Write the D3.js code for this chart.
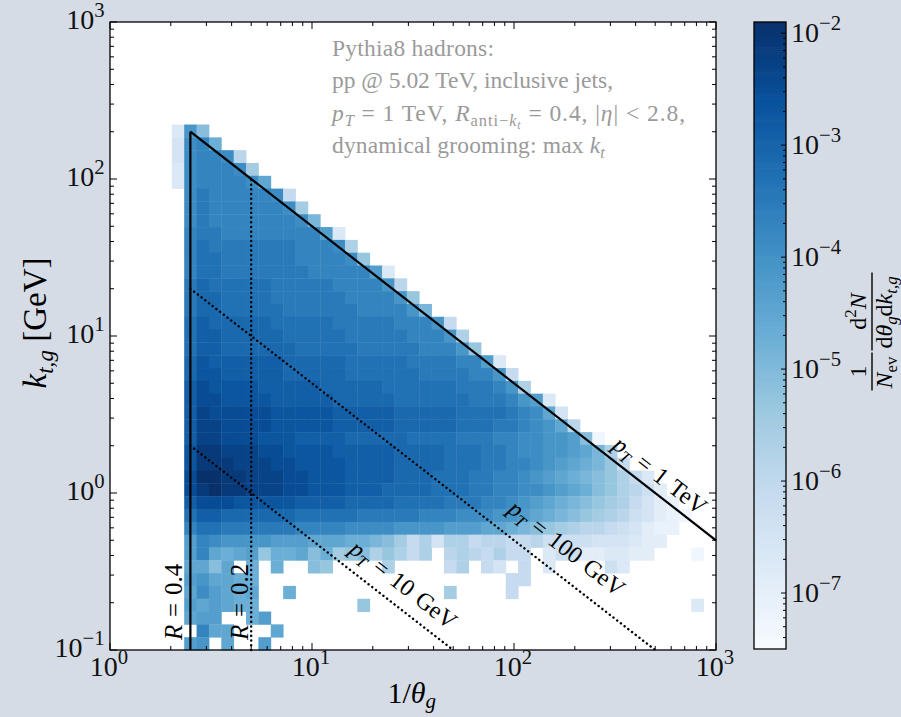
<!DOCTYPE html>
<html><head><meta charset="utf-8">
<script src="https://cdn.jsdelivr.net/npm/d3@7"></script>
<style>
html,body{margin:0;padding:0;background:#d6dce5;}
svg{display:block;}
text{font-family:"Liberation Serif","Times New Roman",serif;}
</style></head><body>
<svg id="chart" width="901" height="717"></svg>
<script>
// ---- histogram definition -------------------------------------------------
const xDomain = [1, 1000];     // 1/theta_g
const yDomain = [0.1, 1000];   // k_t,g [GeV]
const nBinsX = 49, nBinsY = 49;

// density levels: char index k -> log10(density) = levelBase + levelStep*k, '.' = empty bin
const levelChars = "0123456789ABCDEFGHIJKLMNOPQRS";
const levelBase = -7.5, levelStep = 0.2;

// one string per k_t bin, listed from the highest filled bin (40) down to bin 0;
// character position = 1/theta_g bin
const densityRowsTopDown = [
  ".....4HC",
  ".....5IJE",
  ".....5IJJI8",
  ".....4IJJJIA",
  ".....4IJJJJIF",
  "......IKJJJJJI7",
  "......IKJJJJJJIA",
  "......IKJJJJJJJID",
  "......JKKJJJJJJJJG4",
  "......JLKKKKKKKJJJI9",
  "......JLLKKKKKKJJJJIB",
  "......JLLKKKKKKKJJJJJG4",
  "......KMLLLLLKKKKKJJJJH8",
  "......KMMLLLLKKKKKKJJJJHB",
  "......KMMLLLLLKKKKKKJJJJHD",
  "......LNMMMMMLLLLLKKKKKJJJH7",
  "......LNNMMMMMLLLLLKKKKKJJJH9",
  "......LNNMMMMMMLLLLLKKKKKJJJHB",
  "......MONNNNNNMMMMMLLLLLKKKKJJG4",
  "......MOONNNNNMMMMMLLLLLLKKKKJJH7",
  "......NPOOOONNNNNMMMMMLLLLLLKKKJH9",
  "......NPPOOOONNNNNMMMMMLLLLLLKKKJHG4",
  "......NQPPPPPOOOOONNNNNMMMMMLLLLKJIF5",
  "......NQQPPPPOOOOONNNNNMMMMMLLLKKJIHF8",
  "......NQQPPPOOONNNNMMMMMLLLLKKKJJIIHHGC1",
  "......ORRQQQPPOOOONNNNNMMMMLLLKKJIIHHGFD9",
  "......ORRRQQQPPOOOONNNNMMMMLLLKKJJIHGFEDB7",
  "......PSSRRQQQPPOOONNNNMMMLLLKKJJIHGFEDCB974",
  "......PRSRRQQQPPOOONNNMMMMLLLKKJJIIHGFECB9863",
  "......NPPPOOOOONNNNMMMMLLLLKKKJJIHGFEDCBA97532",
  "......LNNMMMMMMLLLLLKKKKKJJJIIIHHGFEDCBA9865321",
  "......JLLKKKKKKJJJJIIIIHHHHGGGFFEDCBA988765322",
  "......GJIHHHHGGGFFFEEDCA795997887786666555433",
  "......GJFEFGBEEFCEABC9B979.8987977.466334433...1",
  "......FFCF.E.E..CB....9....79.75.7.4....64",
  "......GHFFEE....................77",
  "......FIGFEF..E............A....7",
  "......GFGFEE........B..........................4",
  "......FGG..EG",
  ".......JFF...F",
  "......GH.F..G"
];

const colorLimits = [Math.pow(10, -7.5), Math.pow(10, -1.9)];
const bluesStops = ["#f7fbff","#deebf7","#c6dbef","#9ecae1","#6baed6","#4292c6","#2171b5","#08519c","#08306b"];

const xMajorExps = [0, 1, 2, 3];
const yMajorExps = [-1, 0, 1, 2, 3];
const cbarMajorExps = [-7, -6, -5, -4, -3, -2];

// guide lines: R = 0.4, 0.2 and k_t = p_T * theta / 2 for p_T = 1000, 100, 10 GeV
const guideLines = [
  {pts: [[2.5, 0.1], [2.5, 200]], dotted: false},
  {pts: [[2.5, 200], [1000, 0.5]], dotted: false},
  {pts: [[5, 0.1], [5, 100]], dotted: true},
  {pts: [[2.5, 20], [500, 0.1]], dotted: true},
  {pts: [[2.5, 2], [50, 0.1]], dotted: true}
];
const ptLabels = [
  {at: 470, pt: 1000, off: -9,  text: [["p",1,0],["T",1,1],[" = 1 TeV",0,0]]},
  {at: 152, pt: 100,  off: -18, text: [["p",1,0],["T",1,1],[" = 100 GeV",0,0]]},
  {at: 24.5, pt: 10,  off: -13, text: [["p",1,0],["T",1,1],[" = 10 GeV",0,0]]}
];

// annotation block: rich-text segments [text, italic, level] and line widths
const annLines = [
  [["Pythia8 hadrons:", 0, 0]],
  [["pp @ 5.02 TeV, inclusive jets,", 0, 0]],
  [["p", 1, 0], ["T", 1, 1], [" = 1 TeV, ", 0, 0], ["R", 1, 0], ["anti\u2212", 0, 1], ["k", 1, 1], ["t", 1, 2],
   [" = 0.4, |", 0, 0], ["\u03b7", 1, 0], ["| < 2.8,", 0, 0]],
  [["dynamical grooming: max ", 0, 0], ["k", 1, 0], ["t", 1, 1]]
];
const annWidths = [162, 281, 353, 275];

// ---- layout ----------------------------------------------------------------
const W = 901, H = 717;
const plot = {left: 110, right: 716, top: 22, bottom: 650};
const cbar = {left: 754, right: 786, top: 22, bottom: 649};
const bg = "#d6dce5";
const tickFont = 28, labelFont = 33, annFont = 23.5, lineFont = 24;

const svg = d3.select("#chart");
const x = d3.scaleLog().domain(xDomain).range([plot.left, plot.right]);
const y = d3.scaleLog().domain(yDomain).range([plot.bottom, plot.top]);
const norm = d3.scaleLog().domain(colorLimits).range([0, 1]).clamp(true);
const cmap = d3.scaleLinear().domain(bluesStops.map((_, i) => i / (bluesStops.length - 1)))
  .range(bluesStops).interpolate(d3.interpolateRgb).clamp(true);

// rich text: segments [text, italic, level] ; level 0 normal, 1 sub, 2 subsub, -1 super
function rich(sel, segs, size, supScale, subShift) {
  let cur = 0;
  const ss = supScale || 0.7, sb = subShift || 0.2;
  segs.forEach(([t, it, lvl]) => {
    const fs = lvl === 0 ? size : lvl === -1 ? size * ss : lvl === 1 ? size * 0.7 : size * 0.5;
    const off = lvl === 0 ? 0 : lvl === 1 ? size * sb : lvl === 2 ? size * 0.33 : -size * 0.42;
    sel.append("tspan").attr("dy", off - cur).attr("font-size", fs)
      .attr("font-style", it ? "italic" : "normal").text(t);
    cur = off;
  });
  if (cur !== 0) sel.append("tspan").attr("dy", -cur).attr("font-size", size).text("\u200a");
  return sel;
}
function pow10(sel, e, size) {
  return rich(sel, [["10", 0, 0], [e < 0 ? "\u2212" + (-e) : String(e), 0, -1]], size, 0.74);
}

svg.append("rect").attr("width", W).attr("height", H).attr("fill", bg);
svg.append("rect").attr("x", plot.left).attr("y", plot.top)
  .attr("width", plot.right - plot.left).attr("height", plot.bottom - plot.top).attr("fill", "#fff");

// ---- heat map ---------------------------------------------------------------
const xEdges = d3.range(nBinsX + 1).map(i => xDomain[0] * Math.pow(xDomain[1] / xDomain[0], i / nBinsX));
const yEdges = d3.range(nBinsY + 1).map(i => yDomain[0] * Math.pow(yDomain[1] / yDomain[0], i / nBinsY));
const cells = [];
densityRowsTopDown.forEach((row, i) => {
  const r = densityRowsTopDown.length - 1 - i;
  for (let c = 0; c < row.length; c++) {
    const k = levelChars.indexOf(row[c]);
    if (k < 0) continue;
    cells.push({c, r, v: Math.pow(10, levelBase + levelStep * k)});
  }
});
svg.append("g").selectAll("rect").data(cells).join("rect")
  .attr("x", d => x(xEdges[d.c]))
  .attr("y", d => y(yEdges[d.r + 1]))
  .attr("width", d => x(xEdges[d.c + 1]) - x(xEdges[d.c]) + 0.4)
  .attr("height", d => y(yEdges[d.r]) - y(yEdges[d.r + 1]) + 0.4)
  .attr("fill", d => cmap(norm(d.v)));

// ---- guide lines -----------------------------------------------------------
const line = d3.line().x(d => x(d[0])).y(d => y(d[1]));
svg.append("g").selectAll("path").data(guideLines).join("path")
  .attr("d", d => line(d.pts)).attr("fill", "none").attr("stroke", "#000")
  .attr("stroke-width", d => d.dotted ? 2.4 : 2.2)
  .attr("stroke-dasharray", d => d.dotted ? "0.1,4.6" : null)
  .attr("stroke-linecap", d => d.dotted ? "round" : "butt");

const ang = Math.atan2(y(0.5) - y(200), x(1000) - x(2.5)) * 180 / Math.PI;
ptLabels.forEach(l => {
  const px = x(l.at), py = y(l.pt / 2 / l.at);
  const t = svg.append("text").attr("transform", `translate(${px},${py}) rotate(${ang})`)
    .attr("y", l.off).attr("text-anchor", "middle").attr("font-size", lineFont).attr("fill", "#000")
    .attr("word-spacing", 2);
  rich(t, l.text, lineFont);
});
[[2.5, "0.4", -8], [5, "0.2", -3]].forEach(([xv, rv, off]) => {
  const t = svg.append("text").attr("transform", `translate(${x(xv) + off},${plot.bottom - 10}) rotate(-90)`)
    .attr("text-anchor", "start").attr("font-size", 25).attr("word-spacing", 1.5);
  rich(t, [["R", 1, 0], [" = " + rv, 0, 0]], 25);
});

// ---- annotation ------------------------------------------------------------
annLines.forEach((segs, i) => {
  const t = svg.append("text").attr("x", 332).attr("y", 56 + i * 32.4)
    .attr("font-size", annFont).attr("fill", "#9a9a9a")
    .attr("textLength", annWidths[i]).attr("lengthAdjust", "spacing");
  rich(t, segs, annFont);
});

// ---- frame and ticks -------------------------------------------------------
const axG = svg.append("g").attr("stroke", "#000").attr("stroke-width", 1);
function logTicks(lo, hi) {
  const out = [];
  for (let e = Math.floor(Math.log10(lo)); e <= Math.ceil(Math.log10(hi)); e++)
    for (let m = 1; m <= 9; m++) {
      const v = m * Math.pow(10, e);
      if (v >= lo * 0.9999 && v <= hi * 1.0001) out.push({v, major: m === 1});
    }
  return out;
}
const maj = 7, mnr = 4;
logTicks(xDomain[0], xDomain[1]).forEach(t => {
  const px = x(t.v), L = t.major ? maj : mnr;
  axG.append("line").attr("x1", px).attr("x2", px).attr("y1", plot.bottom).attr("y2", plot.bottom - L);
  axG.append("line").attr("x1", px).attr("x2", px).attr("y1", plot.top).attr("y2", plot.top + L);
});
logTicks(yDomain[0], yDomain[1]).forEach(t => {
  const py = y(t.v), L = t.major ? maj : mnr;
  axG.append("line").attr("y1", py).attr("y2", py).attr("x1", plot.left).attr("x2", plot.left + L);
  axG.append("line").attr("y1", py).attr("y2", py).attr("x1", plot.right).attr("x2", plot.right - L);
});
svg.append("rect").attr("x", plot.left).attr("y", plot.top)
  .attr("width", plot.right - plot.left).attr("height", plot.bottom - plot.top)
  .attr("fill", "none").attr("stroke", "#000").attr("stroke-width", 1.3);

xMajorExps.forEach(e => {
  const t = svg.append("text").attr("x", x(Math.pow(10, e))).attr("y", 676)
    .attr("text-anchor", "middle").attr("font-size", tickFont).attr("fill", "#111");
  pow10(t, e, tickFont);
});
yMajorExps.forEach(e => {
  const t = svg.append("text").attr("x", 107).attr("y", y(Math.pow(10, e)) + 7)
    .attr("text-anchor", "end").attr("font-size", tickFont).attr("fill", "#111");
  pow10(t, e, tickFont);
});

// axis titles
const xt = svg.append("text").attr("x", (plot.left + plot.right) / 2).attr("y", 703)
  .attr("text-anchor", "middle").attr("font-size", 30);
rich(xt, [["1/", 0, 0], ["\u03b8", 1, 0], ["g", 1, 1]], 30, 0.7, 0.15);
const yt = svg.append("text")
  .attr("transform", `translate(46,323) rotate(-90)`)
  .attr("text-anchor", "middle").attr("font-size", labelFont);
rich(yt, [["k", 1, 0], ["t,g", 1, 1], [" [GeV]", 0, 0]], labelFont);

// ---- colour bar -------------------------------------------------------------
const cy = d3.scaleLog().domain(colorLimits).range([cbar.bottom, cbar.top]);
const nSteps = 300;
const cbG = svg.append("g");
d3.range(nSteps).forEach(i => {
  const f0 = i / nSteps, f1 = (i + 1) / nSteps;
  const y0 = cbar.bottom - f0 * (cbar.bottom - cbar.top), y1 = cbar.bottom - f1 * (cbar.bottom - cbar.top);
  cbG.append("rect").attr("x", cbar.left).attr("y", y1).attr("width", cbar.right - cbar.left)
    .attr("height", y0 - y1 + 0.6).attr("fill", cmap((i + 0.5) / nSteps));
});
logTicks(colorLimits[0], colorLimits[1]).forEach(t => {
  const py = cy(t.v), L = t.major ? 5 : 3;
  cbG.append("line").attr("x1", cbar.right).attr("x2", cbar.right - L).attr("y1", py).attr("y2", py)
    .attr("stroke", "#000").attr("stroke-width", 1);
});
cbG.append("rect").attr("x", cbar.left).attr("y", cbar.top).attr("width", cbar.right - cbar.left)
  .attr("height", cbar.bottom - cbar.top).attr("fill", "none").attr("stroke", "#000").attr("stroke-width", 1.3);
cbarMajorExps.forEach(e => {
  const t = svg.append("text").attr("x", 791).attr("y", cy(Math.pow(10, e)) + 9)
    .attr("font-size", tickFont).attr("fill", "#111");
  pow10(t, e, tickFont);
});

// colour bar title: 1/N_ev  d^2N / (d theta_g d k_t,g), rotated
const cbT = svg.append("g").attr("transform", `translate(872,${(cbar.top + cbar.bottom) / 2}) rotate(-90)`);
const fs = 24;
function fraction(g, cx, num, den) {
  const n = g.append("text").attr("x", cx).attr("y", -6).attr("text-anchor", "middle").attr("font-size", fs);
  rich(n, num, fs);
  const d = g.append("text").attr("x", cx).attr("y", 20).attr("text-anchor", "middle").attr("font-size", fs);
  rich(d, den, fs);
  const w = Math.max(n.node().getComputedTextLength(), d.node().getComputedTextLength()) + 4;
  g.append("line").attr("x1", cx - w / 2).attr("x2", cx + w / 2).attr("y1", 0).attr("y2", 0)
    .attr("stroke", "#000").attr("stroke-width", 1.4);
}
fraction(cbT, -36, [["1", 0, 0]], [["N", 1, 0], ["ev", 0, 1]]);
fraction(cbT, 24, [["d", 0, 0], ["2", 0, -1], ["N", 1, 0]],
  [["d", 0, 0], ["\u03b8", 1, 0], ["g", 1, 1], ["d", 0, 0], ["k", 1, 0], ["t,g", 1, 1]]);
</script>
</body></html>
